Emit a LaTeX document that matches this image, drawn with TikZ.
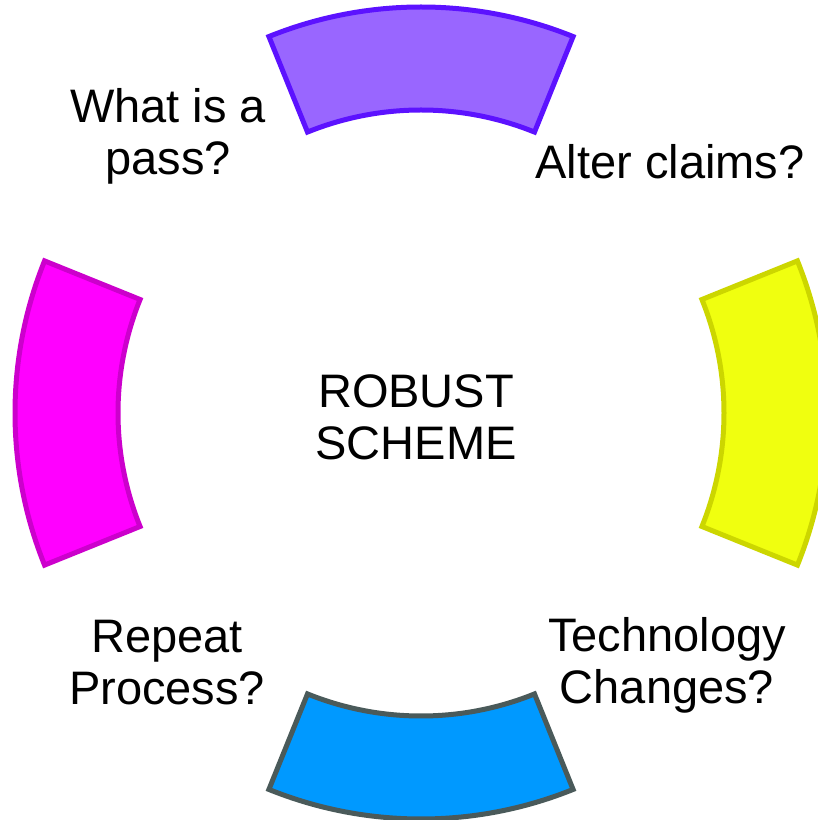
\documentclass[tikz,border=0pt]{standalone}
\usepackage{fontspec}
\setmainfont{Liberation Sans}
\definecolor{topfill}{HTML}{9966FF}
\definecolor{topdraw}{HTML}{5C12FF}
\definecolor{leftfill}{HTML}{FF00FF}
\definecolor{leftdraw}{HTML}{CC00CC}
\definecolor{rightfill}{HTML}{F0FF0F}
\definecolor{rightdraw}{HTML}{CCD600}
\definecolor{botfill}{HTML}{0099FF}
\definecolor{botdraw}{HTML}{4A5A5A}
\tikzset{
  seg/.style={line width=5pt, line join=miter},
  lbl/.style={align=center, inner sep=0pt, anchor=base, font=\fontsize{47}{52.5}\selectfont}
}
\newcommand{\ringseg}[4]{%
  \draw[seg, fill=#3, draw=#4] (#1:406pt) arc[start angle=#1, end angle=#2, radius=406pt]
    -- (#2:303pt) arc[start angle=#2, end angle=#1, radius=303pt] -- cycle;}
\begin{document}
\begin{tikzpicture}[x=1pt,y=1pt]
\useasboundingbox (0,0) rectangle (818,820);
\begin{scope}[shift={(421,407)}]
  \ringseg{68}{112}{topfill}{topdraw}
  \ringseg{158}{202}{leftfill}{leftdraw}
  \ringseg{248}{292}{botfill}{botdraw}
  \ringseg{-22}{22}{rightfill}{rightdraw}
\end{scope}
\node[lbl] (pass) at (168,645) {What is a\\pass?};
\node[lbl] (alter) at (670,641) {Alter claims?};
\node[lbl] (robust) at (416,360) {ROBUST\\SCHEME};
\node[lbl] (repeat) at (167,115.5) {Repeat\\Process?};
\node[lbl] (tech) at (667,116) {Technology\\Changes?};
\end{tikzpicture}
\end{document}
